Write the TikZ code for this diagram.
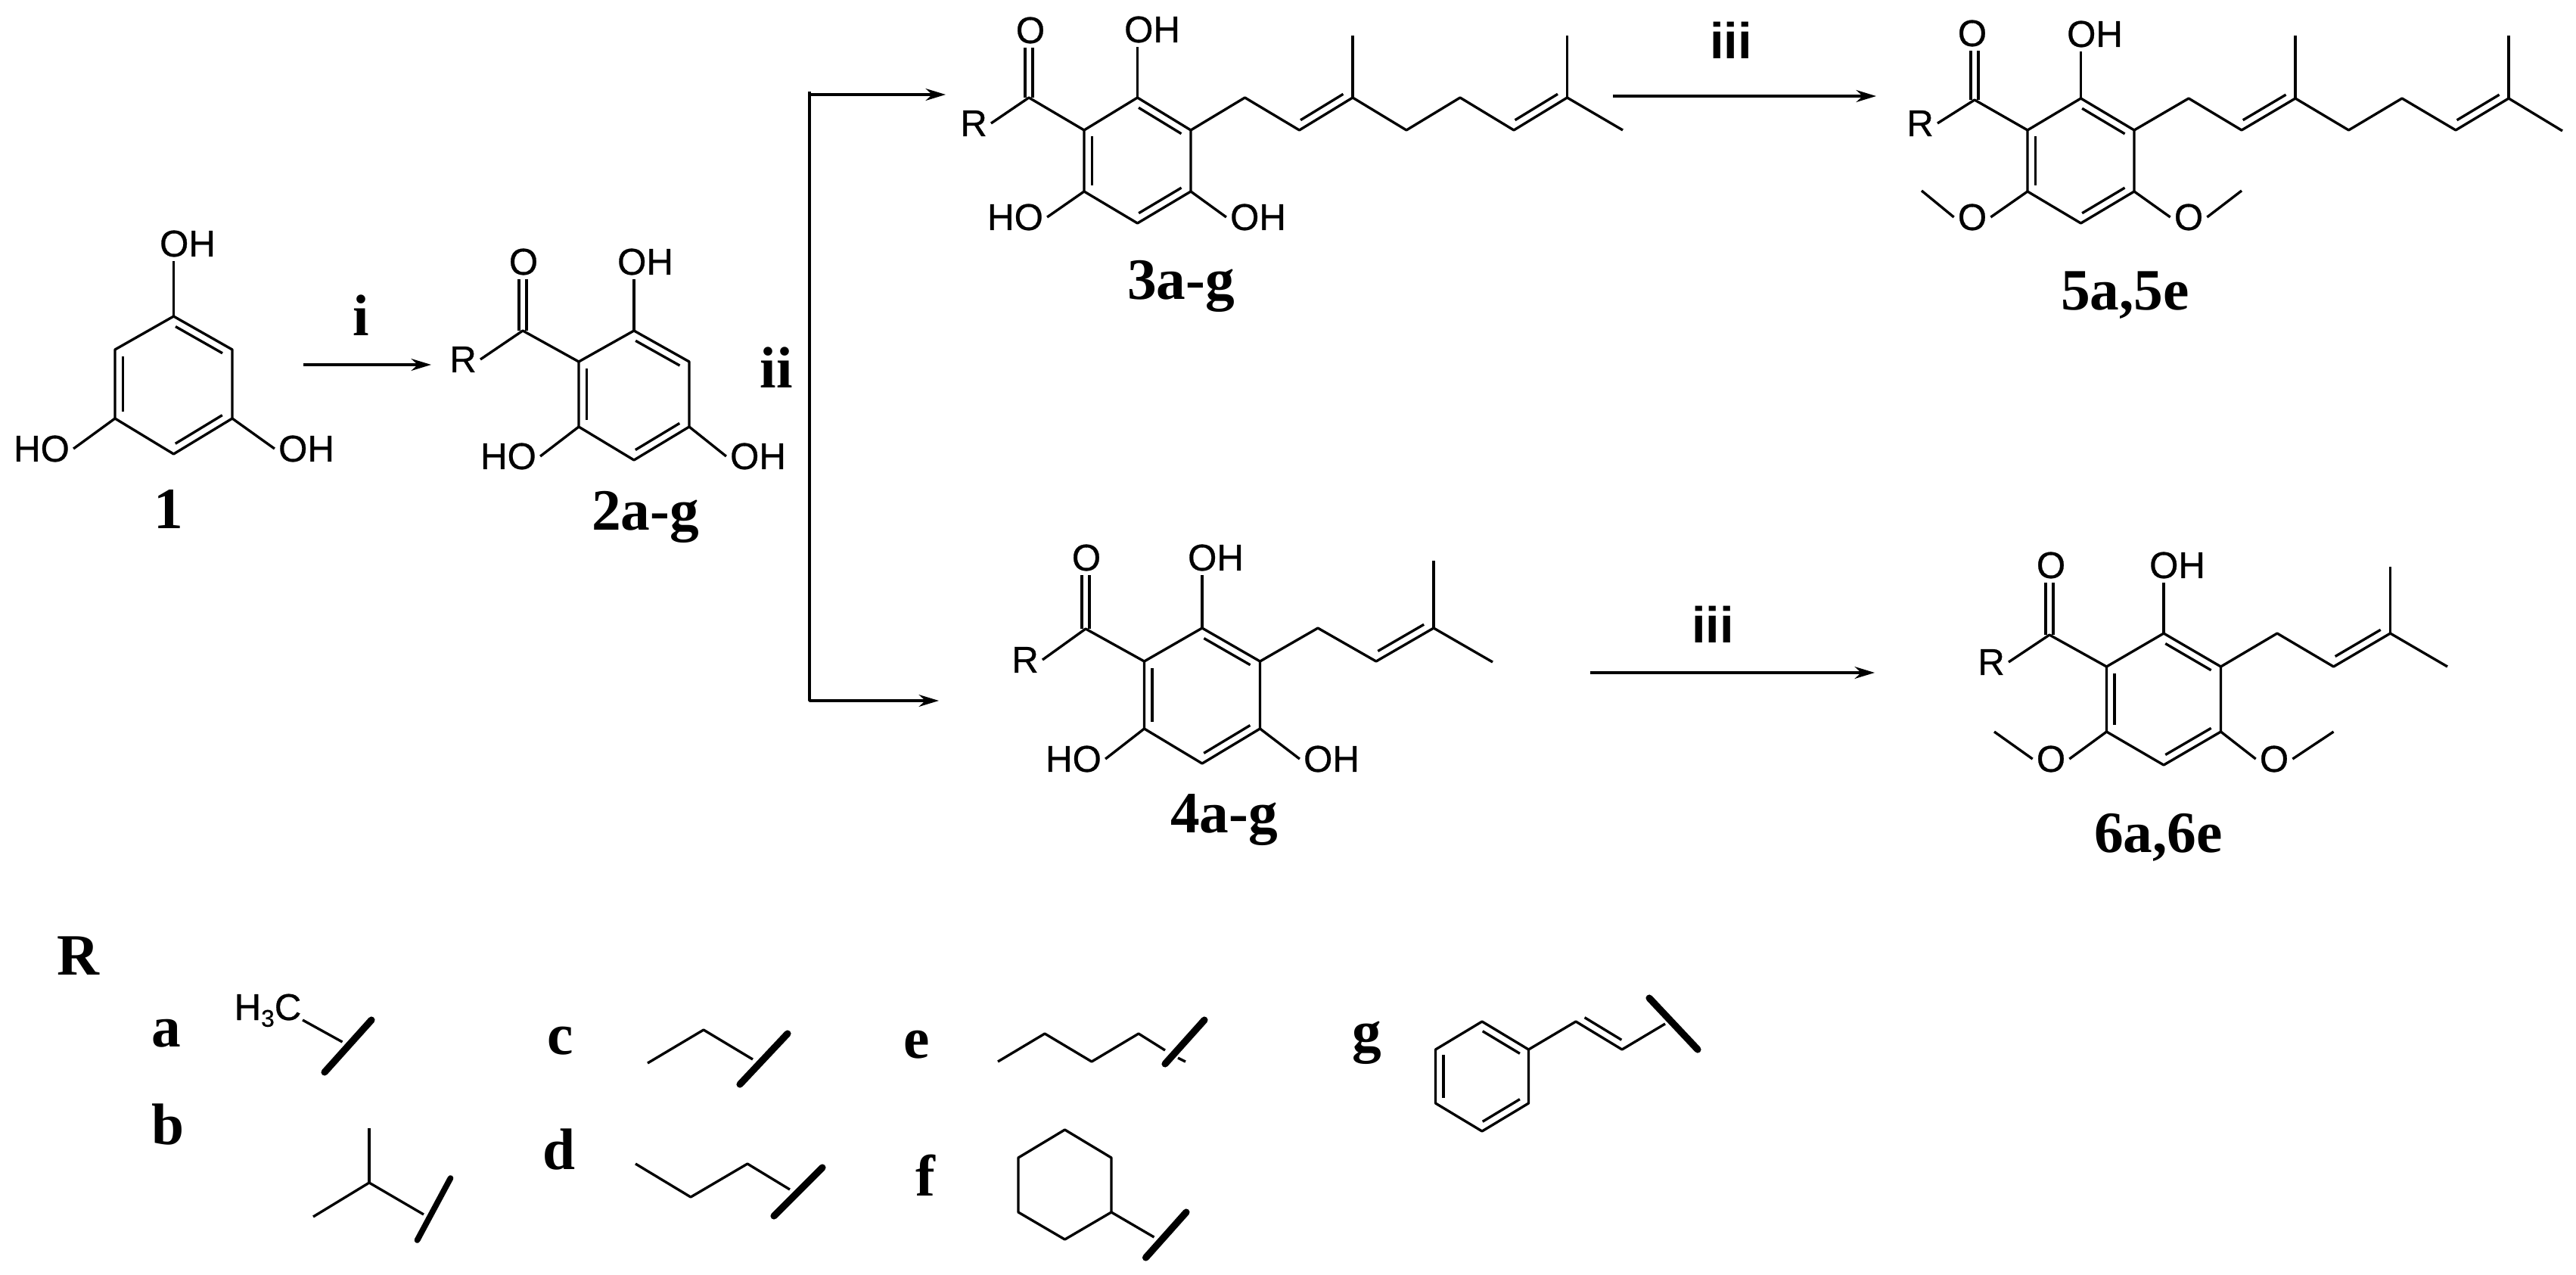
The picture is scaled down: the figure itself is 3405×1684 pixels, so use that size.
\documentclass[tikz,border=0pt]{standalone}
\usepackage{fontspec}
\setmainfont{Liberation Serif}
\setsansfont{Liberation Sans}
\newfontfamily\atomfont[FakeBold=0.6]{Liberation Sans}
\usetikzlibrary{arrows.meta,calc}
\tikzset{
	atom/.style={font=\atomfont\fontsize{14}{14}\selectfont,inner sep=1pt},
	cmpd/.style={font=\bfseries\fontsize{22}{22}\selectfont,inner sep=0pt,anchor=base},
	stepnum/.style={font=\sffamily\bfseries\fontsize{19}{19}\selectfont,inner sep=0pt,anchor=base},
	rxn/.style={line width=1pt,-{Stealth[length=7.5pt,width=4.5pt]}},
	rxnbold/.style={line width=1.1pt,-{Stealth[length=7.5pt,width=4.5pt]}},
	attach/.style={line width=2.6pt,line cap=round}
}
\newcommand{\phring}[7]{
	\coordinate (#1t) at (#2,#4);
	\coordinate (#1ur) at ({#2+#3},#5);
	\coordinate (#1lr) at ({#2+#3},#6);
	\coordinate (#1b) at (#2,#7);
	\coordinate (#1ll) at ({#2-#3},#6);
	\coordinate (#1ul) at ({#2-#3},#5);
	\draw (#1t) -- (#1ur) -- (#1lr) -- (#1b) -- (#1ll) -- (#1ul) -- cycle;
}
\newcommand{\dbl}[2]{\draw ($(#1)!0.1!(#2)!3pt!-90:(#2)$) -- ($(#1)!0.9!(#2)!3pt!-90:(#2)$);}
\newcommand{\kekule}[1]{\dbl{#1t}{#1ur}\dbl{#1lr}{#1b}\dbl{#1ll}{#1ul}}
\newcommand{\carbonyl}[2]{
	\draw ([xshift=-1.4pt]#1) -- ([xshift=-1.4pt]#1 |- #2.south);
	\draw ([xshift=1.4pt]#1) -- ([xshift=1.4pt]#1 |- #2.south);
}
\begin{document}
\begin{tikzpicture}[x=0.01cm,y=-0.01cm,line width=0.95pt,line join=round]
	\useasboundingbox (0,0) rectangle (3405,1684);

	\phring{ma}{229.5}{77.5}{418}{462}{553}{600}
	\kekule{ma}
	\node[atom] (oha) at (248,322) {OH};
	\node[atom] (hoa) at (55,593) {HO};
	\node[atom] (ohb) at (405,593) {OH};
	\draw (mat) -- (mat |- oha.south);
	\draw (mall) -- (hoa.east);
	\draw (malr) -- (ohb.west);
	\node[cmpd] (la) at (223,698) {1};

	\coordinate (ia) at (401,482);
	\coordinate (ib) at (570,482);
	\draw[rxnbold] (ia) -- (ib);
	\node[cmpd] (si) at (477,443) {i};

	\phring{mb}{838}{73}{437}{478}{564}{608}
	\kekule{mb}
	\coordinate (cob) at (691,437);
	\node[atom] (ob) at (692,346) {O};
	\node[atom] (rb) at (612,475) {R};
	\node[atom] (ohc) at (853,346) {OH};
	\node[atom] (hob) at (672,603) {HO};
	\node[atom] (ohd) at (1002,603) {OH};
	\draw (mbul) -- (cob) -- (rb.east);
	\carbonyl{cob}{ob}
	\draw (mbt) -- (mbt |- ohc.south);
	\draw (mbll) -- (hob.east);
	\draw (mblr) -- (ohd.west);
	\node[cmpd] (lb) at (853,700) {2a-g};

	\node[cmpd] (sii) at (1026,512) {ii};
	\coordinate (ba) at (1070,121);
	\coordinate (bb) at (1070,926);
	\coordinate (bc) at (1241,926);
	\coordinate (bd) at (1070,125);
	\coordinate (be) at (1250,125);
	\draw[rxn] (ba) -- (bb) -- (bc);
	\draw[rxnbold] (bd) -- (be);

	\phring{mc}{1503.5}{70.5}{129}{172}{253}{295}
	\kekule{mc}
	\coordinate (coc) at (1360,129);
	\node[atom] (oc) at (1362,40) {O};
	\node[atom] (rc) at (1287,163) {R};
	\node[atom] (ohe) at (1523,39) {OH};
	\node[atom] (hoc) at (1342,287) {HO};
	\node[atom] (ohf) at (1663,287) {OH};
	\draw (mcul) -- (coc) -- (rc.east);
	\carbonyl{coc}{oc}
	\draw (mct) -- (mct |- ohe.south);
	\draw (mcll) -- (hoc.east);
	\draw (mclr) -- (ohf.west);
	\draw (mcur) -- (1645.5,129) -- (1717.5,172) coordinate (pa) -- (1788,129) coordinate (pb)
		-- (1859,172) -- (1930,129) -- (2001,172) coordinate (pc) -- (2071.5,129) coordinate (pd) -- (2145,172);
	\draw (pb) -- (1788,47);
	\draw (pd) -- (2071.5,47);
	\dbl{pb}{pa}\dbl{pd}{pc}
	\node[cmpd] (lc) at (1561,395) {3a-g};

	\coordinate (ta) at (2132,127);
	\coordinate (tb) at (2480,127);
	\draw[rxnbold] (ta) -- (tb);
	\node[stepnum] (siii) at (2288,77) {iii};

	\phring{md}{2750.5}{70.5}{130}{172}{253}{295}
	\kekule{md}
	\coordinate (cod) at (2610,132);
	\node[atom] (od) at (2607,44) {O};
	\node[atom] (rd) at (2538,163) {R};
	\node[atom] (ohg) at (2769,45) {OH};
	\node[atom] (ome) at (2607,287) {O};
	\node[atom] (omf) at (2893,287) {O};
	\draw (mdul) -- (cod) -- (rd.east);
	\carbonyl{cod}{od}
	\draw (mdt) -- (mdt |- ohg.south);
	\draw (mdll) -- (ome.east);
	\draw (ome.west) -- (2540,252);
	\draw (mdlr) -- (omf.west);
	\draw (omf.east) -- (2963,252);
	\draw (mdur) -- (2893,130) -- (2963,172) coordinate (qa) -- (3034,130) coordinate (qb)
		-- (3104.5,172) -- (3175,130) -- (3246,172) coordinate (qc) -- (3316,130) coordinate (qd) -- (3387,173);
	\draw (qb) -- (3034,47);
	\draw (qd) -- (3316,47);
	\dbl{qb}{qa}\dbl{qd}{qc}
	\node[cmpd] (ld) at (2809,409) {5a,5e};

	\phring{me}{1589}{76.5}{830}{874}{963}{1009}
	\kekule{me}
	\coordinate (coe) at (1435,831);
	\node[atom] (oe) at (1436,737) {O};
	\node[atom] (re) at (1355,872) {R};
	\node[atom] (ohh) at (1607,737) {OH};
	\node[atom] (hoe) at (1419,1003) {HO};
	\node[atom] (ohi) at (1760,1003) {OH};
	\draw (meul) -- (coe) -- (re.east);
	\carbonyl{coe}{oe}
	\draw (met) -- (met |- ohh.south);
	\draw (mell) -- (hoe.east);
	\draw (melr) -- (ohi.west);
	\draw (meur) -- (1742,830) -- (1819,874) coordinate (ra) -- (1895,830) coordinate (rb2) -- (1973,875);
	\draw (rb2) -- (1895,741);
	\dbl{rb2}{ra}
	\node[cmpd] (le) at (1618,1100) {4a-g};

	\coordinate (ua) at (2102,889);
	\coordinate (ub) at (2478,889);
	\draw[rxnbold] (ua) -- (ub);
	\node[stepnum] (siv) at (2264,849) {iii};

	\phring{mf}{2860}{75.5}{837}{881}{967}{1011}
	\kekule{mf}
	\coordinate (cof) at (2709,839);
	\node[atom] (of) at (2711,747) {O};
	\node[atom] (rf) at (2632,875) {R};
	\node[atom] (ohj) at (2878,747) {OH};
	\node[atom] (omg) at (2711,1003) {O};
	\node[atom] (omh) at (3006,1003) {O};
	\draw (mful) -- (cof) -- (rf.east);
	\carbonyl{cof}{of}
	\draw (mft) -- (mft |- ohj.south);
	\draw (mfll) -- (omg.east);
	\draw (omg.west) -- (2636,967);
	\draw (mflr) -- (omh.west);
	\draw (omh.east) -- (3084.5,967);
	\draw (mfur) -- (3010,837) -- (3084.5,881) coordinate (sa) -- (3159.5,837) coordinate (sb) -- (3235,881);
	\draw (sb) -- (3159.5,749);
	\dbl{sb}{sa}
	\node[cmpd] (lf) at (2853,1126) {6a,6e};

	\node[cmpd] (rlab) at (103,1288) {R};
	\node[cmpd] (ra1) at (220,1383) {a};
	\node[cmpd] (rb1) at (222,1512) {b};
	\node[cmpd] (rc1) at (741,1393) {c};
	\node[cmpd] (rd1) at (739,1545) {d};
	\node[cmpd] (re1) at (1212,1398) {e};
	\node[cmpd] (rf1) at (1223,1580) {f};
	\node[cmpd] (rg1) at (1807,1389) {g};

	\node[atom,anchor=base,inner sep=0pt] (hc) at (354,1348) {H\raisebox{-2.5pt}{\fontsize{9}{9}\selectfont 3}C};
	\draw (hc.base east) -- (452.5,1377);
	\draw[attach] (491,1348) -- (429,1417);

	\draw (488,1491) -- (488,1563);
	\draw (414,1608) -- (488,1563) -- (560,1605);
	\draw[attach,line width=2.2pt] (595.5,1557) -- (551.5,1639);

	\draw (856,1405) -- (930,1361) -- (995,1400);
	\draw[attach] (1041,1366) -- (978,1433);

	\draw (840,1538) -- (913,1582) -- (988,1538) -- (1044,1572);
	\draw[attach] (1087,1543) -- (1023,1607);

	\draw (1319,1403) -- (1381,1366) -- (1443,1403) -- (1505,1366) -- (1540,1388);
	\draw[attach] (1592,1348) -- (1540,1406);
	\draw (1557,1398) -- (1567,1403);

	\phring{mg}{1407.5}{61.5}{1493}{1530}{1602}{1638}
	\draw (mglr) -- (1525.5,1635);
	\draw[attach] (1568,1602) -- (1514.5,1662);

	\phring{mh}{1959}{61.5}{1350}{1387}{1458}{1495}
	\kekule{mh}
	\draw (mhur) -- (2083,1350) coordinate (ta2) -- (2144,1387) coordinate (tb2) -- (2201,1353);
	\dbl{tb2}{ta2}
	\draw[attach] (2180,1319) -- (2244,1387);
\end{tikzpicture}
\end{document}
